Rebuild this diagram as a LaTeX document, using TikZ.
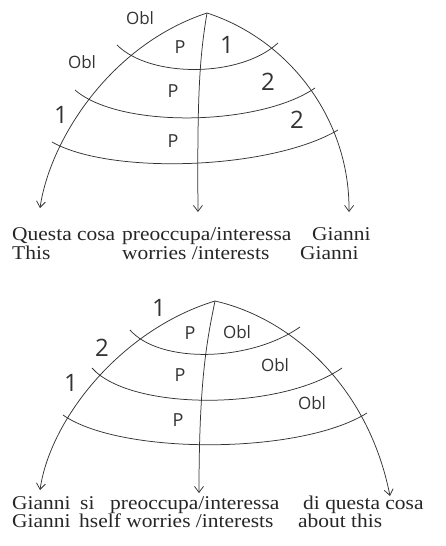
\documentclass[tikz,border=0pt]{standalone}
\usepackage{fontspec}
\setmainfont{Liberation Serif}
\newfontfamily\handfont{Open Sans}
\usetikzlibrary{arrows.meta, positioning}

\begin{document}
\begin{tikzpicture}[
    x=1pt, y=-1pt,
    stroke/.style={draw=black!80, line width=0.75pt},
    arc/.style={stroke, -{Straight Barb[length=6pt, width=9pt]}},
    gloss/.style={anchor=base west, inner sep=0pt, transform shape, xscale=1.1,
                  font=\fontsize{19.5}{19.5}\selectfont, text=black!85},
    hand/.style={inner sep=0pt, font=\handfont\fontsize{17}{17}\selectfont, text=black!80},
    relp/.style={inner sep=0pt, font=\handfont\fontsize{18}{18}\selectfont, text=black!80},
    num/.style={inner sep=0pt, font=\handfont\fontsize{24}{24}\selectfont, text=black!80}
]
\useasboundingbox (0,0) rectangle (445,546);

% Upper tree
\coordinate (apexA) at (207,13);
\coordinate (leftA) at (40,208);
\coordinate (midA) at (198,212);
\coordinate (rightA) at (349,212);
\draw[arc] (apexA) .. controls (110,45) and (50,140) .. (leftA);
\draw[arc] (apexA) .. controls (200,55) and (197,90) .. (midA);
\draw[arc] (apexA) .. controls (290,40) and (350,120) .. (rightA);

% Upper strata
\coordinate (sA1w) at (117,45);  \coordinate (sA1e) at (278,43);
\coordinate (sA2w) at (75,90);   \coordinate (sA2e) at (315,88);
\coordinate (sA3w) at (52,142);  \coordinate (sA3e) at (338,130);
\draw[stroke] (sA1w) .. controls (150,78) and (240,78) .. (sA1e);
\draw[stroke] (sA2w) .. controls (120,129) and (260,126) .. (sA2e);
\draw[stroke] (sA3w) .. controls (110,175) and (270,170) .. (sA3e);

% Upper relations
\node[hand] (oblA1) at (140,18) {Obl};
\node[hand] (oblA2) at (82,62) {Obl};
\node[num] (oneA1) at (61,115) {1};
\node[relp] (pA1) at (180,47) {P};
\node[relp] (pA2) at (173,91) {P};
\node[relp] (pA3) at (173,141) {P};
\node[num] (oneA2) at (227,45) {1};
\node[num] (twoA1) at (268,82) {2};
\node[num] (twoA2) at (297,120) {2};

% Upper gloss
\node[gloss] (questa) at (12,240) {Questa cosa};
\node[gloss] (preoccA) at (122,240) {preoccupa/interessa};
\node[gloss] (gianniA) at (312,240) {Gianni};
\node[gloss] (this) at (12,259) {This};
\node[gloss] (worriesA) at (122,259) {worries /interests};
\node[gloss] (gianniB) at (300,259) {Gianni};

% Lower tree
\coordinate (apexB) at (215,301);
\coordinate (leftB) at (40,490);
\coordinate (midB) at (199,493);
\coordinate (rightB) at (390,496);
\draw[arc] (apexB) .. controls (120,330) and (50,420) .. (leftB);
\draw[arc] (apexB) .. controls (207,340) and (199,380) .. (midB);
\draw[arc] (apexB) .. controls (290,318) and (368,385) .. (rightB);

% Lower strata
\coordinate (sB1w) at (130,330); \coordinate (sB1e) at (300,327);
\coordinate (sB2w) at (92,368);  \coordinate (sB2e) at (342,368);
\coordinate (sB3w) at (63,415);  \coordinate (sB3e) at (367,413);
\draw[stroke] (sB1w) .. controls (160,364) and (250,362) .. (sB1e);
\draw[stroke] (sB2w) .. controls (130,411) and (280,411) .. (sB2e);
\draw[stroke] (sB3w) .. controls (120,455) and (300,455) .. (sB3e);

% Lower relations
\node[num] (oneB1) at (159,308) {1};
\node[num] (twoB1) at (102,348) {2};
\node[num] (oneB2) at (71,383) {1};
\node[relp] (pB1) at (190,333) {P};
\node[relp] (pB2) at (180,375) {P};
\node[relp] (pB3) at (178,420) {P};
\node[hand] (oblB1) at (237,332) {Obl};
\node[hand] (oblB2) at (275,365) {Obl};
\node[hand] (oblB3) at (312,403) {Obl};

% Lower gloss
\node[gloss] (gianniC) at (12,509) {Gianni};
\node[gloss] (si) at (80,509) {si};
\node[gloss] (preoccB) at (110,509) {preoccupa/interessa};
\node[gloss] (diquesta) at (303,509) {di questa cosa};
\node[gloss] (gianniD) at (12,527) {Gianni};
\node[gloss] (hself) at (79,527) {hself worries /interests};
\node[gloss] (about) at (298,527) {about this};

\end{tikzpicture}
\end{document}
